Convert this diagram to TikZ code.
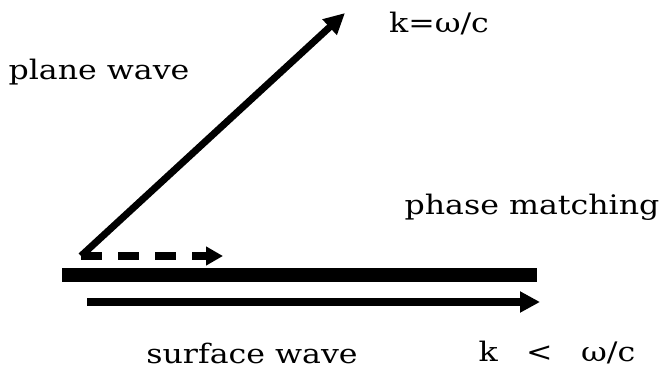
\documentclass[tikz,border=0pt]{standalone}
\usepackage{fontspec}
\setmainfont{DejaVu Serif}
\usepackage{tikz}
\usetikzlibrary{arrows.meta, positioning}

\begin{document}
\begin{tikzpicture}[lbl/.style={font=\fontsize{9}{11}\selectfont, yscale=0.85, inner sep=0pt},
    tip/.style={-{Triangle[length=0.21cm,width=0.2cm]}}]
        \useasboundingbox (0,0) rectangle (6.64,3.72);

        % Points of the wave vectors
        \coordinate (origin) at (0.81,1.16);
        \coordinate (kp) at (3.45,3.59);
        \coordinate (kx) at (2.23,1.16);

        % Plane wave vector and its projection
        \draw[line width=0.07cm, tip] (origin) -- (kp);
        \draw[line width=0.08cm, dash pattern=on 0.21cm off 0.16cm,
              -{Triangle[length=0.17cm,width=0.18cm]}] (origin) -- (kx);

        % Metal surface
        \coordinate (sl) at (0.62,0.97);
        \coordinate (sr) at (5.37,0.97);
        \draw[line width=0.14cm] (sl) -- (sr);

        % Surface wave vector
        \coordinate (ks) at (0.87,0.70);
        \coordinate (ke) at (5.40,0.70);
        \draw[line width=0.075cm, -{Triangle[length=0.2cm,width=0.2cm]}] (ks) -- (ke);

        % Labels
        \node[lbl] (plane) at (0.99,3.00) {plane wave};
        \node[lbl] (kvac) at (4.39,3.48) {k=ω/c};
        \node[lbl] (phase) at (5.32,1.65) {phase matching};
        \node[lbl] (surf) at (2.52,0.19) {surface wave};
        \node[lbl] (kspp) at (5.57,0.19) {k\hspace{0.9em}<\hspace{0.9em}ω/c};
\end{tikzpicture}
\end{document}
